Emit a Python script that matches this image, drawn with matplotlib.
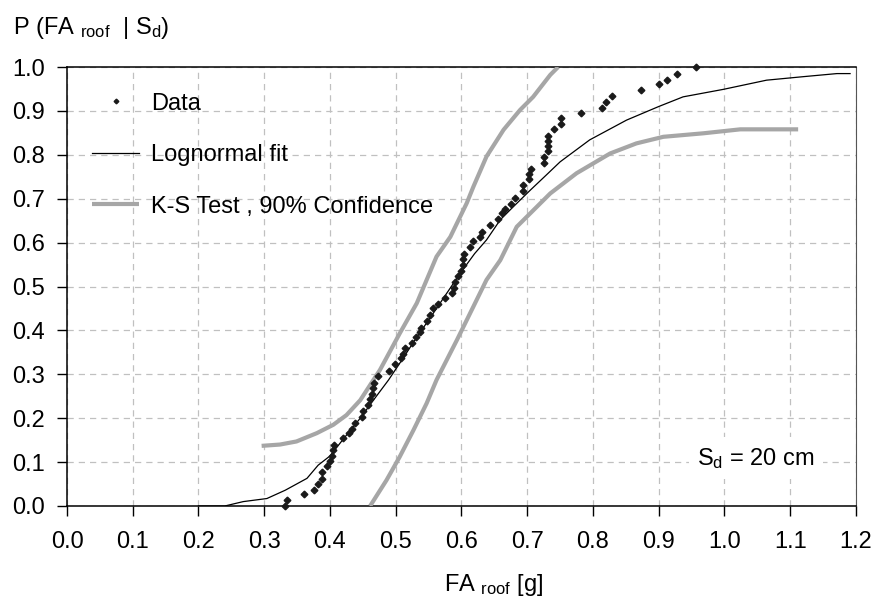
import numpy as np
import matplotlib
matplotlib.use("Agg")
import matplotlib.pyplot as plt

plt.rcParams['font.family'] = ['Liberation Sans', 'DejaVu Sans']
plt.rcParams['mathtext.fontset'] = 'custom'
plt.rcParams['mathtext.rm'] = 'Liberation Sans'
plt.rcParams['mathtext.it'] = 'Liberation Sans:italic'

# empirical data (FA_roof [g], cumulative probability)
data_x = [0.331, 0.334, 0.361, 0.376, 0.382, 0.388, 0.388, 0.396, 0.400, 0.403,
          0.405, 0.406, 0.420, 0.429, 0.433, 0.438, 0.448, 0.450, 0.458, 0.461,
          0.464, 0.465, 0.467, 0.473, 0.490, 0.499, 0.508, 0.511, 0.514, 0.524,
          0.531, 0.537, 0.539, 0.547, 0.552, 0.557, 0.565, 0.575, 0.585, 0.588,
          0.590, 0.595, 0.600, 0.603, 0.603, 0.604, 0.613, 0.618, 0.628, 0.631,
          0.643, 0.655, 0.662, 0.666, 0.675, 0.681, 0.693, 0.693, 0.702, 0.703,
          0.705, 0.726, 0.726, 0.731, 0.731, 0.731, 0.731, 0.740, 0.752, 0.752,
          0.782, 0.814, 0.820, 0.829, 0.873, 0.901, 0.913, 0.927, 0.956]
data_y = [0.000, 0.014, 0.027, 0.036, 0.049, 0.062, 0.077, 0.090, 0.103, 0.114,
          0.127, 0.140, 0.154, 0.167, 0.175, 0.190, 0.203, 0.216, 0.231, 0.244,
          0.256, 0.268, 0.281, 0.295, 0.308, 0.323, 0.336, 0.346, 0.359, 0.371,
          0.386, 0.396, 0.406, 0.422, 0.435, 0.450, 0.459, 0.473, 0.485, 0.497,
          0.511, 0.524, 0.536, 0.549, 0.562, 0.575, 0.591, 0.604, 0.613, 0.625,
          0.640, 0.653, 0.667, 0.677, 0.689, 0.702, 0.718, 0.731, 0.744, 0.756,
          0.767, 0.781, 0.794, 0.809, 0.821, 0.831, 0.843, 0.858, 0.871, 0.884,
          0.895, 0.907, 0.921, 0.935, 0.948, 0.962, 0.970, 0.984, 1.000]

# lognormal fit
fit_x = [0.200, 0.240, 0.268, 0.304, 0.332, 0.365, 0.382, 0.400, 0.420, 0.446,
         0.466, 0.489, 0.506, 0.530, 0.557, 0.580, 0.598, 0.620, 0.638, 0.659,
         0.679, 0.705, 0.729, 0.750, 0.795, 0.851, 0.900, 0.937, 0.998, 1.064,
         1.120, 1.171, 1.191]
fit_y = [0.000, 0.000, 0.010, 0.017, 0.036, 0.063, 0.093, 0.114, 0.152, 0.200,
         0.241, 0.287, 0.325, 0.380, 0.439, 0.490, 0.530, 0.575, 0.606, 0.652,
         0.682, 0.720, 0.754, 0.784, 0.834, 0.879, 0.910, 0.932, 0.949, 0.970,
         0.978, 0.985, 0.985]

# K-S 90% confidence bounds
upper_x = [0.296, 0.324, 0.349, 0.380, 0.405, 0.425, 0.446, 0.466, 0.476, 0.506,
           0.532, 0.562, 0.583, 0.608, 0.618, 0.638, 0.664, 0.689, 0.709, 0.735, 0.747]
upper_y = [0.137, 0.140, 0.147, 0.166, 0.185, 0.207, 0.241, 0.287, 0.310, 0.393,
           0.462, 0.568, 0.613, 0.690, 0.727, 0.796, 0.857, 0.902, 0.932, 0.982, 1.000]
lower_x = [0.461, 0.486, 0.506, 0.527, 0.547, 0.562, 0.593, 0.618, 0.638, 0.659,
           0.684, 0.735, 0.775, 0.826, 0.866, 0.907, 0.968, 1.024, 1.112]
lower_y = [0.000, 0.059, 0.112, 0.173, 0.234, 0.287, 0.378, 0.454, 0.515, 0.560,
           0.636, 0.712, 0.758, 0.803, 0.826, 0.841, 0.849, 0.858, 0.858]

xticks = np.round(np.arange(0, 1.21, 0.1), 1)
yticks = np.round(np.arange(0, 1.01, 0.1), 1)

fs = 17
fig = plt.figure(figsize=(8.79, 5.97), dpi=100)
ax = fig.add_axes([67 / 879, 1 - 506 / 597, (856 - 67) / 879, (506 - 67) / 597])

ax.plot(data_x, data_y, linestyle='none', marker='D', markersize=3.4,
        color='#1a1a1a', label='Data', zorder=5, clip_on=False)
ax.plot(fit_x, fit_y, color='black', lw=0.9, label='Lognormal fit', zorder=4)
ax.plot(upper_x, upper_y, color='#a6a6a6', lw=3, solid_capstyle='butt',
        label='K-S Test , 90% Confidence', zorder=3)
ax.plot(lower_x, lower_y, color='#a6a6a6', lw=3, solid_capstyle='butt', zorder=3)

ax.set_xlim(0, 1.2)
ax.set_ylim(0, 1.0)
ax.set_xticks(xticks)
ax.set_yticks(yticks)
ax.set_xticklabels(['%.1f' % v for v in xticks], fontsize=fs)
ax.set_yticklabels(['%.1f' % v for v in yticks], fontsize=fs)
ax.tick_params(axis='x', direction='out', length=7, width=1, pad=11)
ax.tick_params(axis='y', direction='out', length=7, width=1, pad=9)
ax.grid(True, color='#c0c0c0', lw=0.9, linestyle=(0, (5, 4)))
ax.set_axisbelow(True)
for s in ax.spines.values():
    s.set_linewidth(1.1)
    s.set_color('black')
ax.spines['right'].set_color('#555555')
ax.spines['right'].set_linewidth(0.8)

leg = ax.legend(loc='upper left', bbox_to_anchor=(0.005, 0.99), frameon=False,
                fontsize=fs, handlelength=2.0, handletextpad=0.5,
                labelspacing=1.25, markerscale=0.7)

ax.text(1.048, 0.109, r'S$_{\mathrm{d}}$ = 20 cm', fontsize=fs, ha='center', va='center',
        bbox=dict(facecolor='white', edgecolor='none', pad=6), zorder=6)

fig.text(13 / 879, 1 - 28 / 597, r'P (FA $_{\mathrm{roof}}$  | S$_{\mathrm{d}}$)',
         fontsize=fs, ha='left', va='center')
fig.text(494 / 879, 1 - 585 / 597, r'FA $_{\mathrm{roof}}$ [g]',
         fontsize=fs, ha='center', va='center')

fig.savefig('out.png', dpi=100)
